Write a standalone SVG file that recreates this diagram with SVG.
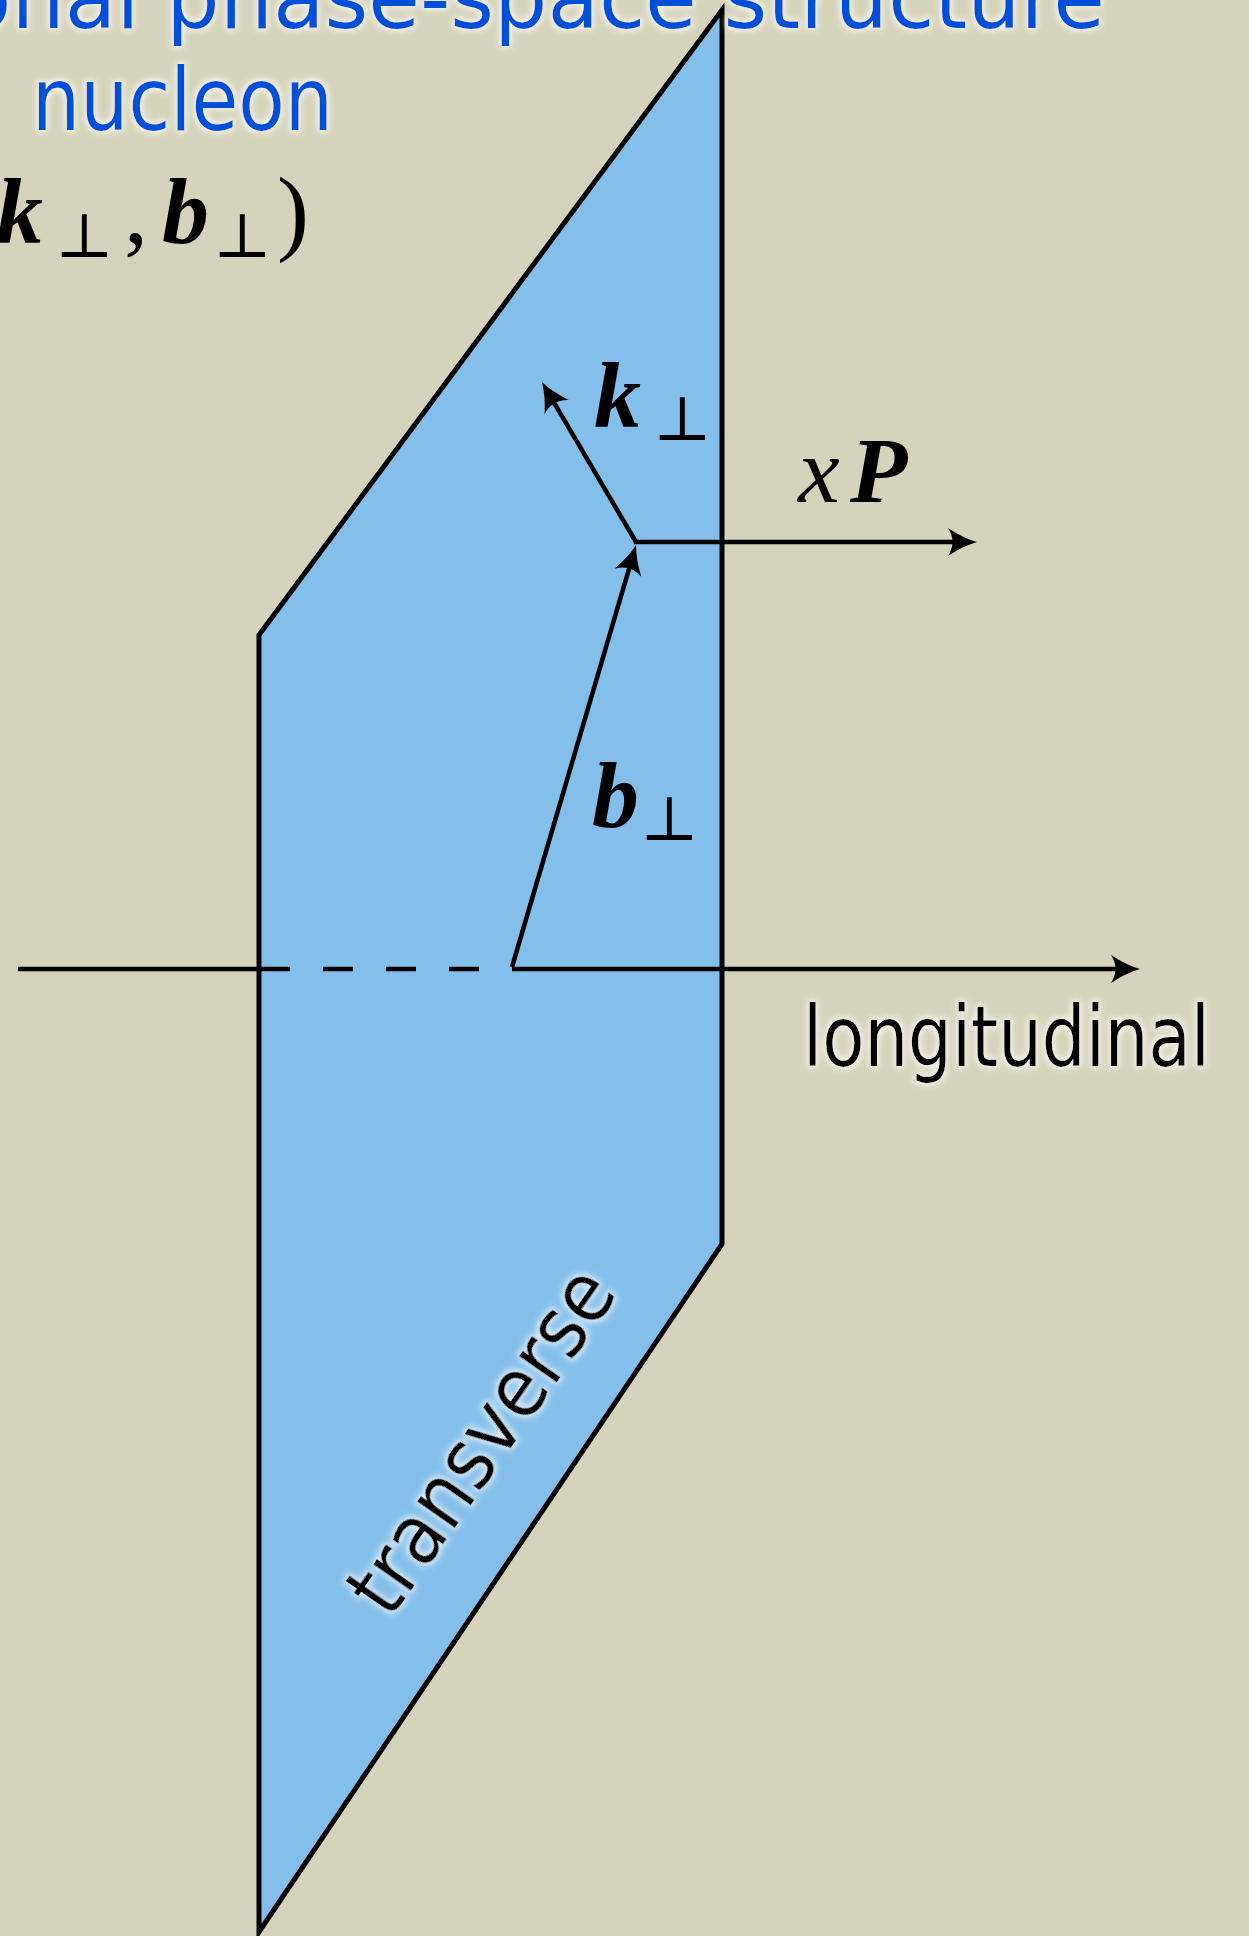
<svg xmlns="http://www.w3.org/2000/svg" width="1249" height="1936" viewBox="0 0 1249 1936">
  <defs>
    <filter id="glow" x="-10%" y="-30%" width="120%" height="160%">
      <feMorphology in="SourceAlpha" operator="dilate" radius="2" result="d"/>
      <feGaussianBlur in="d" stdDeviation="3" result="b"/>
      <feFlood flood-color="#ffffff" flood-opacity="0.75"/>
      <feComposite in2="b" operator="in" result="g"/>
      <feMerge><feMergeNode in="g"/><feMergeNode in="SourceGraphic"/></feMerge>
    </filter>
    <marker id="ah" markerUnits="userSpaceOnUse" viewBox="-24 -16 36 32" markerWidth="36" markerHeight="32" refX="0" refY="0" orient="auto">
      <path d="M9,0 Q-5,-4 -20,-14 Q-11,0 -20,14 Q-5,4 9,0 Z" fill="#000"/>
    </marker>
  </defs>
  <style>
    .edge { fill: #84bfeb; stroke: #000; stroke-width: 5; stroke-linejoin: miter; }
    .ln { stroke: #000; stroke-width: 4.5; fill: none; }
    .arr { stroke: #000; stroke-width: 4.5; fill: none; marker-end: url(#ah); }
    .title { font-family: "DejaVu Sans", "Noto Sans", sans-serif; font-size: 88px; fill: #0050d8; }
    .lab { font-family: "DejaVu Sans", "Noto Sans", sans-serif; font-size: 84px; fill: #000; }
    .mb { font-family: "Liberation Serif", serif; font-weight: bold; font-style: italic; font-size: 94px; fill: #000; }
    .mi { font-family: "Liberation Serif", serif; font-style: italic; font-size: 94px; fill: #000; }
    .mr { font-family: "Liberation Serif", serif; font-size: 96px; fill: #000; }
    .perp { font-family: "DejaVu Serif", "DejaVu Sans", serif; font-size: 62px; fill: #000; }
  </style>

  <rect id="background" x="0" y="0" width="1249" height="1936" fill="#d5d3bb"/>

  <g id="plane">
    <polygon class="edge" points="259,635 722,10 722,1244 259,1932"/>
  </g>

  <g id="connectors">
    <line class="ln" x1="18" y1="969" x2="260" y2="969"/>
    <line class="ln" x1="260" y1="969" x2="512" y2="969" stroke-dasharray="30 33"/>
    <line class="arr" x1="512" y1="969" x2="1131" y2="969"/>
    <line class="arr" x1="512" y1="967" x2="633.5" y2="553.6"/>
    <line class="arr" x1="636" y1="542" x2="546.5" y2="389.8"/>
    <line class="arr" x1="634" y1="542" x2="968" y2="542"/>
  </g>

  <g id="label-kperp">
    <text class="mb" x="594" y="427">k</text>
    <text class="perp" x="653" y="440">⊥</text>
  </g>
  <g id="label-xP">
    <text class="mi" x="798" y="502">x</text>
    <text class="mb" x="850" y="502">P</text>
  </g>
  <g id="label-bperp">
    <text class="mb" x="592" y="827">b</text>
    <text class="perp" x="640" y="840">⊥</text>
  </g>

  <g id="label-longitudinal">
    <text class="lab" x="803" y="1066" textLength="407" lengthAdjust="spacingAndGlyphs" filter="url(#glow)">longitudinal</text>
  </g>
  <g id="label-transverse">
    <text class="lab" transform="translate(485,1443) rotate(-55)" x="0" y="24" text-anchor="middle" textLength="400" lengthAdjust="spacingAndGlyphs" filter="url(#glow)">transverse</text>
  </g>

  <g id="title">
    <text class="title" x="-40" y="28" textLength="1145" lengthAdjust="spacingAndGlyphs" filter="url(#glow)">onal phase-space structure</text>
    <text class="title" x="32" y="130" textLength="301" lengthAdjust="spacingAndGlyphs" filter="url(#glow)">nucleon</text>
  </g>

  <g id="formula">
    <text class="mb" x="-4" y="243">k</text>
    <text class="perp" x="55" y="257">⊥</text>
    <text class="mr" x="124" y="243">,</text>
    <text class="mb" x="162" y="243">b</text>
    <text class="perp" x="213" y="257">⊥</text>
    <text class="mr" x="277" y="243">)</text>
  </g>
</svg>
